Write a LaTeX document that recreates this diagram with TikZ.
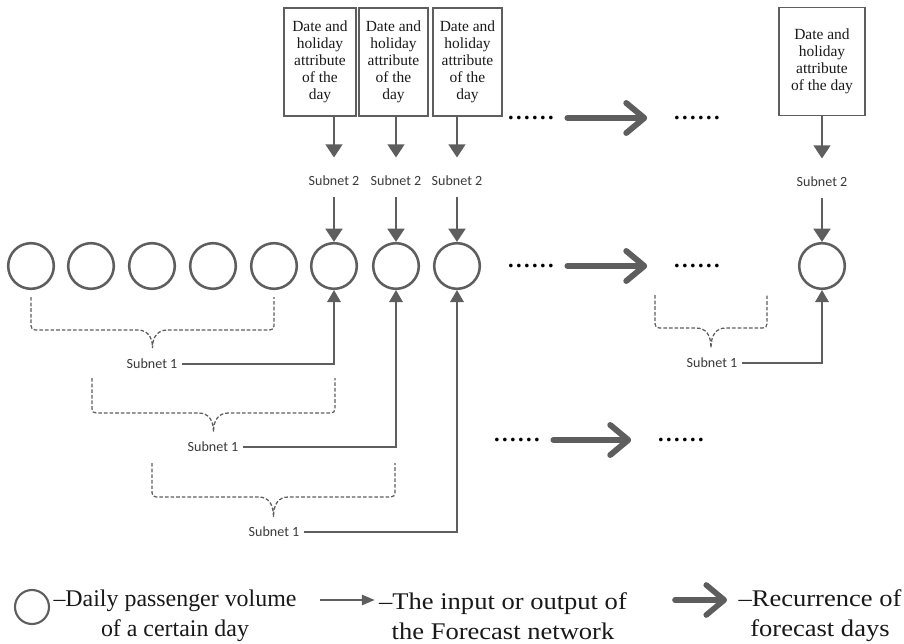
\documentclass[tikz,border=0pt]{standalone}
\usepackage{fontspec}
\setmainfont{Liberation Serif}
\newfontfamily\subnetfont{Carlito}
\newfontfamily\widefont{Liberation Serif}[FakeStretch=1.11]
\newfontfamily\dotfont{Liberation Serif}[LetterSpace=10.5]
\usepackage{tikz}
\usetikzlibrary{arrows.meta}
\definecolor{lineg}{HTML}{5E5E5E}
\definecolor{textg}{HTML}{3A3A3A}
\tikzstyle{day} = [draw=lineg, circle, line width=1.8pt, minimum size=1.14cm, inner sep=0pt]
\tikzstyle{attribute} = [draw=lineg, rectangle, line width=1.3pt, minimum height=2.7cm, inner sep=0pt, align=center, text=black!90, font=\fontsize{11}{12.1}\selectfont]
\tikzstyle{subnet} = [inner xsep=3.5pt, inner ysep=0pt, text=textg, font=\subnetfont\fontsize{10}{12}\selectfont]
\tikzstyle{dots} = [inner sep=0pt, font=\dotfont\bfseries\fontsize{16}{16}\selectfont]
\tikzstyle{legend} = [inner sep=0pt, align=center, text=black!90]
\tikzstyle{feed} = [draw=lineg, line width=1.6pt, -{Triangle[length=3.3mm, width=4.2mm]}]
\tikzstyle{link} = [draw=lineg, line width=1.1pt, -{Triangle[length=3mm, width=3.4mm]}]
\tikzstyle{recur} = [draw=lineg, line width=4.2pt, line cap=round, -{Straight Barb[length=4.5mm, width=7.5mm, round]}]
\tikzstyle{brace} = [draw=lineg, line width=0.9pt, dash pattern=on 2.6pt off 1.4pt]

\begin{document}
\begin{tikzpicture}[x=0.025cm, y=-0.025cm]
	\useasboundingbox (0,0) rectangle (904,644);

	% days
	\foreach \i/\x in {1/31, 2/91, 3/152, 4/213, 5/274, 6/334, 7/396, 8/457}
		\node [day] (c\i) at (\x, 266) {};
	\node [day] (cn) at (822, 266) {};

	% date and holiday attributes
	\node [attribute, minimum width=1.8cm] at (320, 62) (b6) {Date and\\holiday\\attribute\\of the\\day};
	\node [attribute, minimum width=1.72cm] at (393.5, 62) (b7) {Date and\\holiday\\attribute\\of the\\day};
	\node [attribute, minimum width=1.72cm] at (467.5, 62) (b8) {Date and\\holiday\\attribute\\of the\\day};
	\node [attribute, minimum width=2.15cm] at (822, 61.5) (bn) {Date and\\holiday\\attribute\\of the day};

	\node [subnet] at (334, 181) (t6) {Subnet 2};
	\node [subnet] at (396, 181) (t7) {Subnet 2};
	\node [subnet] at (457, 181) (t8) {Subnet 2};
	\node [subnet] at (822, 182) (tn) {Subnet 2};

	\path [feed, shorten >=13pt] (b6.south -| c6) -- (t6);
	\path [feed, shorten >=13pt] (b7.south -| c7) -- (t7);
	\path [feed, shorten >=13pt] (b8.south -| c8) -- (t8);
	\path [feed, shorten >=13pt] (bn) -- (tn);
	\path [feed, shorten <=7.5pt] (t6) -- (c6);
	\path [feed, shorten <=7.5pt] (t7) -- (c7);
	\path [feed, shorten <=7.5pt] (t8) -- (c8);
	\path [feed, shorten <=7.5pt] (tn) -- (cn);

	% subnet 1
	\foreach \xa/\xb/\ya/\yb/\yc in {31/274/297/330/348, 92/335/378/413/432, 152/395/463/497/517, 655/767/295/328/348} {
		\pgfmathsetmacro\xm{(\xa+\xb)/2}
		\path [brace] (\xa,\ya) -- (\xa,\yb-9) .. controls (\xa,\yb) .. (\xa+9,\yb) -- (\xm-15,\yb) .. controls (\xm-5,\yb) and (\xm,\yb+7) .. (\xm,\yc) .. controls (\xm,\yb+7) and (\xm+5,\yb) .. (\xm+15,\yb) -- (\xb-9,\yb) .. controls (\xb,\yb) .. (\xb,\yb-9) -- (\xb,\ya);
	}

	\node [subnet] at (152, 364) (s1a) {Subnet 1};
	\node [subnet] at (213, 447) (s1b) {Subnet 1};
	\node [subnet] at (274, 532) (s1c) {Subnet 1};
	\node [subnet] at (712, 363) (s1n) {Subnet 1};

	\path [link] (s1a) -| (c6);
	\path [link] (s1b) -| (c7);
	\path [link] (s1c) -| (c8);
	\path [link] (s1n) -| (cn);

	% recurrence
	\node [dots] at (531, 118) (r1a) {......};
	\node [dots] at (697, 118) (r1b) {......};
	\node [dots] at (531, 266) (r2a) {......};
	\node [dots] at (697, 266) (r2b) {......};
	\node [dots] at (517, 440) (r3a) {......};
	\node [dots] at (681, 440) (r3b) {......};

	\path [recur, shorten <=9.5pt, shorten >=19pt] (r1a) -- (r1b);
	\path [recur, shorten <=9.5pt, shorten >=19pt] (r2a) -- (r2b);
	\path [recur, shorten <=9.5pt, shorten >=19pt] (r3a) -- (r3b);

	% legend
	\node [day, minimum size=0.85cm, line width=1.5pt] at (32, 607) (lgday) {};
	\node [legend, font=\fontsize{17}{21.2}\selectfont] at (175, 616) (lgdaytext) {–Daily passenger volume\\of a certain day};

	\coordinate (lgfeed) at (320, 600);
	\node [legend, font=\widefont\fontsize{17}{21.2}\selectfont] at (503, 616) (lgfeedtext) {–The input or output of\\the Forecast network};
	\path [draw=lineg, line width=1pt, -{Triangle[length=3.2mm, width=2.6mm]}, shorten >=3pt] (lgfeed) -- (lgfeed -| lgfeedtext.west);

	\coordinate (lgrecur) at (675, 600);
	\node [legend, font=\widefont\fontsize{17}{21.2}\selectfont] at (820, 616) (lgrecurtext) {–Recurrence of\\forecast days};
	\path [recur, line width=4pt, shorten >=8pt] (lgrecur) -- (lgrecur -| lgrecurtext.west);

\end{tikzpicture}
\end{document}
